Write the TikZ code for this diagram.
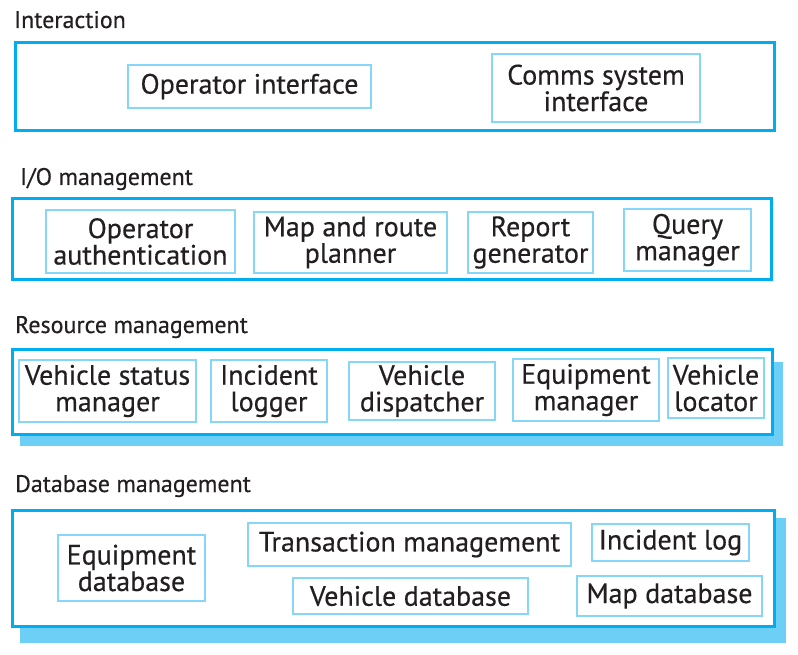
\documentclass[tikz,border=0pt]{standalone}
\usepackage{fontspec}
\setmainfont{PT Sans}[FakeBold=0.4]
\definecolor{bigline}{HTML}{00AEEF}
\definecolor{smallline}{HTML}{86D6F7}
\definecolor{shadowc}{HTML}{6DCFF6}
\definecolor{txt}{HTML}{231F20}
\begin{document}
\begin{tikzpicture}[x=1pt,y=-1pt,
  layerbox/.style={draw=bigline, line width=3pt, fill=white},
  shadowbox/.style={fill=shadowc, draw=none},
  comp/.style={draw=smallline, line width=1.5pt, fill=white, text=txt, align=center, inner sep=0pt,
    font=\fontsize{28}{26.5}\selectfont},
  layerlabel/.style={anchor=base west, inner sep=0pt, text=txt, font=\fontsize{24}{24}\selectfont}]
\useasboundingbox (0,0) rectangle (798,655);
% Interaction
\node[layerlabel] (l1) at (14,28) {Interaction};
\draw[layerbox] (15,43) rectangle (774,131);
\node[comp, minimum width=243pt, minimum height=43pt] (opi) at (249.5,86.5) {Operator interface};
\node[comp, minimum width=208pt, minimum height=68pt] (csi) at (596,88) {Comms system\\interface};
% I/O
\node[layerlabel] (l2) at (20,185) {I/O management};
\draw[layerbox] (12,199) rectangle (771,279);
\node[comp, minimum width=189pt, minimum height=63pt] (oau) at (140.5,241.5) {Operator\\authentication};
\node[comp, minimum width=193pt, minimum height=61pt] (mrp) at (350.5,242.5) {Map and route\\planner};
\node[comp, minimum width=125pt, minimum height=61pt] (rg) at (530.5,242.5) {Report\\generator};
\node[comp, minimum width=127pt, minimum height=62pt] (qm) at (687.5,240) {Query\\manager};
% Resource
\node[layerlabel] (l3) at (15,333) {Resource management};
\fill[shadowbox] (20,362) rectangle (783,446);
\draw[layerbox] (12,349) rectangle (772,434);
\node[comp, minimum width=177pt, minimum height=62pt] (vsm) at (107.5,391) {Vehicle status\\manager};
\node[comp, minimum width=116pt, minimum height=62pt] (il) at (269,391) {Incident\\logger};
\node[comp, minimum width=146pt, minimum height=58pt] (vd) at (422,391) {Vehicle\\dispatcher};
\node[comp, minimum width=146pt, minimum height=62pt] (em) at (586,390) {Equipment\\manager};
\node[comp, minimum width=96pt, minimum height=60pt] (vl) at (716,388) {Vehicle\\locator};
% Database
\node[layerlabel] (l4) at (15,492) {Database management};
\fill[shadowbox] (20,518) rectangle (786,643);
\draw[layerbox] (12,510) rectangle (774,626);
\node[comp, minimum width=147pt, minimum height=66pt] (edb) at (131.5,568) {Equipment\\database};
\node[comp, minimum width=323pt, minimum height=43pt] (tm) at (409.5,544.5) {Transaction management};
\node[comp, minimum width=235pt, minimum height=36pt] (vdb) at (410.5,596) {Vehicle database};
\node[comp, minimum width=157pt, minimum height=37pt] (ilog) at (670.5,542.5) {Incident log};
\node[comp, minimum width=185pt, minimum height=40pt] (mdb) at (669.5,596) {Map database};
\end{tikzpicture}
\end{document}
